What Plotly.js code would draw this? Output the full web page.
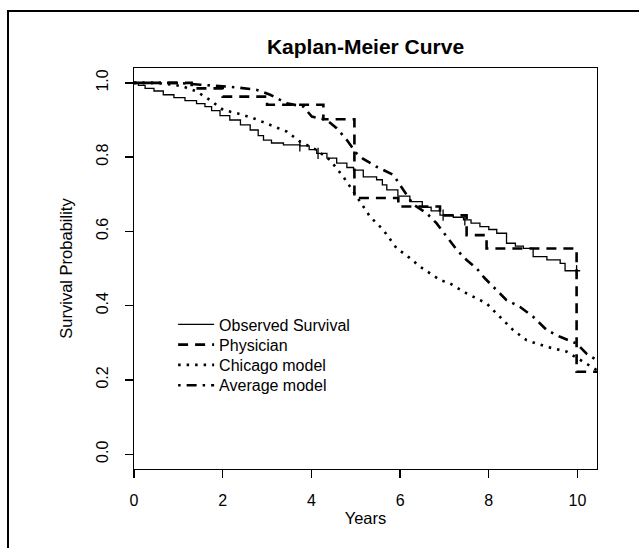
<!DOCTYPE html>
<html>
<head>
<meta charset="utf-8">
<script src="https://cdn.plot.ly/plotly-3.0.1.min.js"></script>
<style>
  html, body { margin: 0; padding: 0; background: #fff; }
  #wrap { position: relative; width: 639px; height: 548px; overflow: hidden; }
  #chart { position: absolute; left: 0; top: 0; width: 639px; height: 548px; }
  #frame { position: absolute; left: 7px; top: 10px; right: -10px; bottom: -10px;
           border-left: 2px solid #000; border-top: 2px solid #000; pointer-events: none; z-index: 5; }
</style>
</head>
<body>
<div id="wrap"><div id="chart"></div><div id="frame"></div></div>
<script>
// ---- Data ----
const obsTime = [0, 0.1, 0.25, 0.45, 0.66, 0.9, 1.15, 1.41, 1.6, 1.75, 1.94, 2.16, 2.4, 2.62, 2.8, 2.92, 3.1, 3.37, 3.74, 3.95, 4.12, 4.35, 4.57, 4.8, 4.95, 5.17, 5.47, 5.6, 5.7, 5.95, 6.22, 6.5, 6.7, 6.9, 7.2, 7.43, 7.6, 7.8, 8.0, 8.18, 8.4, 8.6, 8.78, 9.0, 9.31, 9.61, 9.72, 10.06];
const obsSurv = [1.0, 0.993, 0.985, 0.978, 0.968, 0.960, 0.952, 0.944, 0.936, 0.925, 0.912, 0.900, 0.887, 0.873, 0.858, 0.846, 0.838, 0.833, 0.830, 0.820, 0.810, 0.797, 0.784, 0.772, 0.765, 0.747, 0.739, 0.725, 0.712, 0.695, 0.680, 0.665, 0.655, 0.644, 0.638, 0.631, 0.622, 0.613, 0.605, 0.595, 0.568, 0.560, 0.554, 0.532, 0.523, 0.514, 0.494, 0.494];
const censorTime = [3.74, 4.15, 6.97, 7.46, 9.98];
const censorSurv = [0.830, 0.810, 0.644, 0.631, 0.494];

const physTime = [0, 1.3, 2.0, 3.0, 4.27, 4.97, 5.96, 6.9, 7.5, 7.95, 9.98, 10.44];
const physSurv = [1.0, 0.985, 0.963, 0.941, 0.902, 0.690, 0.667, 0.643, 0.590, 0.554, 0.222, 0.222];

const chiTime = [0, 0.5, 0.9, 1.11, 1.41, 1.71, 2.01, 2.32, 2.69, 3.07, 3.44, 3.74, 4.12, 4.42, 4.72, 5.02, 5.32, 5.62, 5.92, 6.2, 6.45, 6.9, 7.12, 7.5, 7.95, 8.25, 8.55, 8.85, 9.31, 9.76, 10.06, 10.44];
const chiSurv = [1.0, 1.0, 0.995, 0.990, 0.977, 0.954, 0.927, 0.918, 0.905, 0.887, 0.869, 0.842, 0.819, 0.792, 0.747, 0.694, 0.640, 0.604, 0.555, 0.530, 0.505, 0.469, 0.460, 0.433, 0.406, 0.370, 0.334, 0.307, 0.289, 0.276, 0.253, 0.226];

const avgTime = [0, 1.0, 1.5, 2.0, 2.3, 2.77, 3.07, 3.44, 3.82, 4.01, 4.34, 4.57, 4.8, 5.02, 5.17, 5.47, 5.85, 6.07, 6.3, 6.6, 6.82, 7.05, 7.28, 7.5, 7.73, 7.9, 8.1, 8.4, 8.7, 9.0, 9.31, 9.61, 9.98, 10.2, 10.44];
const avgSurv = [1.0, 1.0, 0.995, 0.990, 0.988, 0.981, 0.968, 0.945, 0.936, 0.909, 0.900, 0.878, 0.846, 0.810, 0.795, 0.774, 0.752, 0.712, 0.672, 0.649, 0.622, 0.586, 0.550, 0.523, 0.500, 0.475, 0.451, 0.415, 0.397, 0.370, 0.334, 0.316, 0.298, 0.271, 0.253];

const seriesNames = ["Observed Survival", "Physician", "Chicago model", "Average model"];
const xTicks = [0, 2, 4, 6, 8, 10];
const yTicks = [0, 0.2, 0.4, 0.6, 0.8, 1.0];
const yTickText = ["0.0", "0.2", "0.4", "0.6", "0.8", "1.0"];

const FONT = "Liberation Sans, Arial, sans-serif";

const traces = [
  { x: obsTime, y: obsSurv, name: seriesNames[0], mode: "lines",
    line: { color: "#000", width: 1.3, shape: "hv" } },
  { x: physTime, y: physSurv, name: seriesNames[1], mode: "lines",
    line: { color: "#000", width: 2.6, shape: "hv", dash: "10px,7px" } },
  { x: chiTime, y: chiSurv, name: seriesNames[2], mode: "lines",
    line: { color: "#000", width: 2.6, dash: "2.5px,6px" } },
  { x: avgTime, y: avgSurv, name: seriesNames[3], mode: "lines",
    line: { color: "#000", width: 2.6, dash: "2.5px,6px,10px,6px" } },
  { x: censorTime, y: censorSurv, mode: "markers", showlegend: false, hoverinfo: "skip",
    marker: { symbol: "line-ns", size: 8, line: { color: "#000", width: 1.3 } } }
];

const layout = {
  width: 639, height: 548,
  margin: { l: 134, r: 42, t: 68, b: 79 },
  paper_bgcolor: "#fff", plot_bgcolor: "#fff",
  font: { family: FONT, size: 16, color: "#000" },
  title: { text: "Kaplan-Meier Curve", font: { family: FONT, size: 21, weight: "bold", color: "#000" },
           x: 0.5, xref: "paper", xanchor: "center", y: 1 - 47 / 548, yanchor: "middle" },
  xaxis: {
    range: [0, 10.44], tickvals: xTicks, ticktext: xTicks.map(String),
    showgrid: false, zeroline: false, showline: true, mirror: true,
    linecolor: "#000", linewidth: 1.3,
    ticks: "outside", ticklen: 8, tickwidth: 1.3, tickcolor: "#000",
    ticklabelstandoff: 8,
    tickfont: { family: FONT, size: 16 },
    title: { text: "Years", font: { family: FONT, size: 16.5 }, standoff: 5 }
  },
  yaxis: {
    range: [-0.04, 1.04], tickvals: yTicks, ticktext: yTickText,
    showgrid: false, zeroline: false, showline: true, mirror: true,
    linecolor: "#000", linewidth: 1.3,
    ticks: "outside", ticklen: 8, tickwidth: 1.3, tickcolor: "#000",
    tickangle: -90, ticklabelstandoff: 10,
    tickfont: { family: FONT, size: 16 },
    title: { text: "Survival Probability", font: { family: FONT, size: 16.5 }, standoff: 17 }
  },
  showlegend: true,
  legend: {
    x: 0.0845, y: 0.403, xanchor: "left", yanchor: "top",
    bgcolor: "rgba(0,0,0,0)", borderwidth: 0,
    font: { family: FONT, size: 16, color: "#000" },
    itemwidth: 36, tracegroupgap: 0
  }
};

Plotly.newPlot("chart", traces, layout, { displayModeBar: false, staticPlot: true }).then(function () {
  // tighten legend row spacing to match the reference (about 20px per row)
  const items = document.querySelectorAll("#chart .legend .traces");
  if (!items.length) return;
  const parse = el => {
    const m = /translate\(\s*([-\d.]+)[ ,]+([-\d.]+)\s*\)/.exec(el.getAttribute("transform") || "");
    return m ? [parseFloat(m[1]), parseFloat(m[2])] : null;
  };
  const first = parse(items[0]);
  if (!first) return;
  items.forEach((el, i) => {
    const p = parse(el);
    if (p) el.setAttribute("transform", "translate(" + p[0] + "," + (first[1] + i * 20.3) + ")");
  });
});
</script>
</body>
</html>
